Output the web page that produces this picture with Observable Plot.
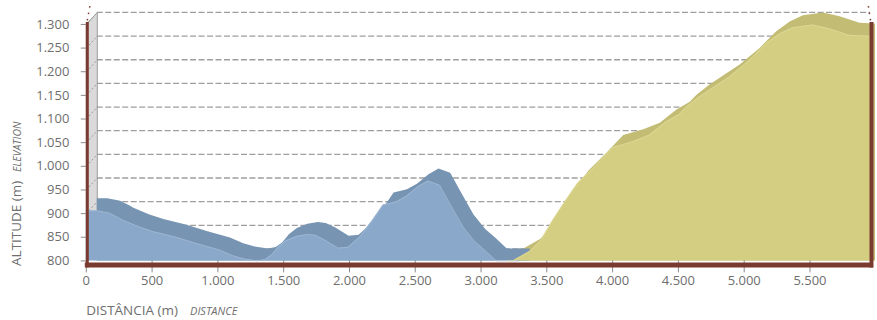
<!DOCTYPE html>
<html><head><meta charset="utf-8">
<script src="https://cdn.jsdelivr.net/npm/d3@7"></script>
<script src="https://cdn.jsdelivr.net/npm/@observablehq/plot@0.6"></script>
<style>
html,body{margin:0;padding:0;background:#fff;}
#chart{width:875px;height:320px;overflow:hidden;}
</style></head><body><div id="chart"></div>
<script>
// Profile data (distance in m, altitude in m)
const blueDist = [0, 80, 177, 253, 278, 400, 506, 683, 835, 1012, 1113, 1200, 1300, 1360, 1410, 1460, 1520, 1600, 1680, 1740, 1813, 1914, 1990, 2079, 2168, 2256, 2357, 2433, 2521, 2597, 2686, 2775, 2863, 2952, 3027, 3116, 3290];
const blueAlt  = [906, 906, 901, 890, 886, 872, 862, 850, 837, 823, 811, 804, 800, 803, 813, 830, 843, 852, 856, 854, 844, 827, 829, 851, 883, 918, 925, 937, 957, 969, 960, 915, 872, 841, 823, 800, 800];
const yellowDist = [3200, 3242, 3369, 3457, 3546, 3647, 3735, 3875, 4001, 4153, 4279, 4406, 4507, 4558, 4659, 4734, 4886, 5038, 5164, 5266, 5367, 5519, 5645, 5797, 5960];
const yellowAlt  = [800, 800, 820, 844, 886, 929, 964, 1003, 1040, 1052, 1066, 1094, 1110, 1125, 1147, 1161, 1189, 1224, 1259, 1280, 1293, 1299, 1291, 1277, 1275];
const xTicks = [0, 500, 1000, 1500, 2000, 2500, 3000, 3500, 4000, 4500, 5000, 5500];
const yTicks = [800, 850, 900, 950, 1000, 1050, 1100, 1150, 1200, 1250, 1300];
const yTitle = "ALTITUDE (m)", ySub = "ELEVATION";
const xTitle = "DISTÂNCIA (m)", xSub = "DISTANCE";

const blue = blueDist.map((d, i) => ({d, alt: blueAlt[i]}));
const yellow = yellowDist.map((d, i) => ({d, alt: yellowAlt[i]}));

const W = 877, H = 320, ML = 86, MR = 5, MT = 24, MB = 59;
const X_MAX = 5960, Y_MIN = 800, Y_MAX = 1300;
const DX = 11, DY = 12; // 3D depth in px
const kx = X_MAX / (W - ML - MR);
const ky = (Y_MAX - Y_MIN) / (H - MT - MB);

const brown = "#7b3a2f";
const frontBlue = "#8aa8c9", backBlue = "#7794b2";
const frontYellow = "#d3ce81", backYellow = "#c2bc74";
const fmt = d => d3.format(",")(d).replace(/,/g, ".");
const FONT = "'Open Sans', sans-serif";

const wall = [
  {x: 0, y: Y_MIN}, {x: 0, y: Y_MAX},
  {x: DX * kx, y: Y_MAX + DY * ky}, {x: DX * kx, y: Y_MIN + DY * ky}, {x: 0, y: Y_MIN}
];

const chart = Plot.plot({
  width: W, height: H,
  marginLeft: ML, marginRight: MR, marginTop: MT, marginBottom: MB,
  style: {fontFamily: FONT, fontSize: "13px", color: "#6e6e6e", background: "#fff"},
  x: {domain: [0, X_MAX], label: null},
  y: {domain: [Y_MIN, Y_MAX], label: null},
  marks: [
    // left wall
    Plot.line(wall, {x: "x", y: "y", fill: "#dadada", stroke: "#9c9c9c", strokeWidth: 1}),
    Plot.link(yTicks, {x1: 0, y1: d => d, x2: DX * kx, y2: d => d + DY * ky, stroke: "#9a9a9a", strokeDasharray: "2,2", strokeWidth: 1}),
    // back wall gridlines
    Plot.ruleY(yTicks, {x1: 0, x2: X_MAX - DX * kx, dx: DX, dy: -DY, stroke: "#9e9e9e", strokeWidth: 1.3, strokeDasharray: "6,2.5"}),
    // back faces
    Plot.areaY(yellow, {x: "d", y1: Y_MIN - DY * ky, y2: "alt", dx: DX, dy: -DY, fill: backYellow}),
    Plot.areaY(blue, {x: "d", y1: Y_MIN - DY * ky, y2: "alt", dx: DX, dy: -DY, fill: backBlue}),
    // front faces
    Plot.areaY(blue, {x: "d", y1: Y_MIN, y2: "alt", fill: frontBlue}),
    Plot.areaY(yellow, {x: "d", y1: Y_MIN, y2: "alt", fill: frontYellow}),
    Plot.line(blue, {x: "d", y: "alt", stroke: "#a6bdd7", strokeWidth: 0.7}),
    Plot.line(yellow, {x: "d", y: "alt", stroke: "#e0dc9e", strokeWidth: 0.7}),
    // axes
    Plot.axisX(xTicks, {tickSize: 12, tickPadding: 3, tickFormat: fmt, fontSize: 13, label: null, stroke: "#8a8a8a"}),
    Plot.axisY(yTicks, {tickSize: 5, tickPadding: 12, tickFormat: fmt, fontSize: 13, label: null, stroke: "#8a8a8a"}),
    // brown frame
    Plot.ruleY([Y_MIN], {stroke: brown, strokeWidth: 5, dy: 4, insetLeft: -1, insetRight: -3}),
    Plot.ruleX([0], {stroke: brown, strokeWidth: 3, dx: 1, insetTop: -2, insetBottom: -7}),
    Plot.ruleX([X_MAX], {stroke: brown, strokeWidth: 4, dx: 1, insetTop: -2, insetBottom: -7}),
    Plot.link([0], {x1: 0, y1: Y_MAX + 4 * ky, x2: 3 * kx, y2: Y_MAX + 21 * ky, dx: 1, stroke: brown, strokeWidth: 1.5, strokeDasharray: "1.5,5"}),
    Plot.link([0], {x1: X_MAX, y1: Y_MAX + 4 * ky, x2: X_MAX - 2.5 * kx, y2: Y_MAX + 21 * ky, dx: 0, stroke: brown, strokeWidth: 1.5, strokeDasharray: "1.5,5"}),
    // axis titles
    Plot.text([yTitle], {frameAnchor: "bottom-left", text: d => d, rotate: -90, textAnchor: "start", lineAnchor: "middle", dx: -70, dy: 5, fontSize: 13.5, fill: "#6e6e6e"}),
    Plot.text([ySub], {frameAnchor: "bottom-left", text: d => d, rotate: -90, textAnchor: "start", lineAnchor: "middle", dx: -69, dy: -89, fontSize: 10.5, fontStyle: "italic", fill: "#6e6e6e"}),
    Plot.text([xTitle], {frameAnchor: "bottom-left", text: d => d, textAnchor: "start", lineAnchor: "middle", dx: 0, dy: 50, fontSize: 13.5, fill: "#6e6e6e"}),
    Plot.text([xSub], {frameAnchor: "bottom-left", text: d => d, textAnchor: "start", lineAnchor: "middle", dx: 104, dy: 51, fontSize: 11, fontStyle: "italic", fill: "#6e6e6e"})
  ]
});
document.getElementById("chart").appendChild(chart);
</script>
</body></html>
